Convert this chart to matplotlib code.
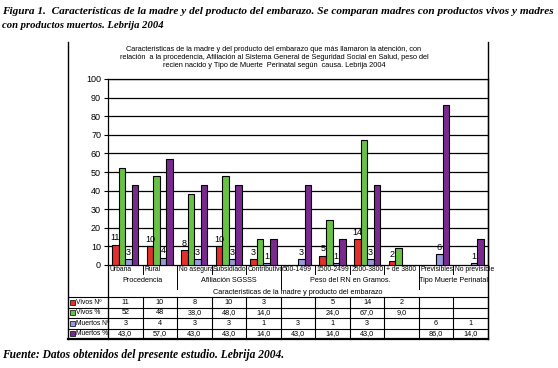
import matplotlib.pyplot as plt
import numpy as np
from matplotlib.transforms import Bbox, TransformedBbox

# data
categories = ['Urbana', 'Rural', 'No asegura', 'Subsidiado', 'Contributivo',
              '500-1499', '1500-2499', '2500-3800', '+ de 3800',
              'Previsibles', 'No previsible']
groups = ['Procedencia', 'Afiliación SGSSS', 'Peso del RN en Gramos.', 'Tipo Muerte Perinatal']
group_sizes = [2, 3, 4, 2]

vivos_n = [11, 10, 8, 10, 3, np.nan, 5, 14, 2, np.nan, np.nan]
vivos_pct = [52, 48, 38.0, 48.0, 14.0, np.nan, 24.0, 67.0, 9.0, np.nan, np.nan]
muertos_n = [3, 4, 3, 3, 1, 3, 1, 3, np.nan, 6, 1]
muertos_pct = [43.0, 57.0, 43.0, 43.0, 14.0, 43.0, 14.0, 43.0, np.nan, 86.0, 14.0]

series_names = ['Vivos Nº', 'Vivos %', 'Muertos Nº', 'Muertos %']
series = [vivos_n, vivos_pct, muertos_n, muertos_pct]
colors = ['#E3302A', '#68C244', '#9A9ADC', '#7A2A8E']
labelled = [True, False, True, False]
# number of decimals printed in each table cell row (first two "Vivos %" have none)
decimals = [[0] * 11, [0, 0] + [1] * 9, [0] * 11, [1] * 11]

title = ('Caracteristicas de la madre y del producto del embarazo que más llamaron la atención, con\n'
         'relación  a la procedencia, Afiliación al Sistema General de Seguridad Social en Salud, peso del\n'
         'recien nacido y Tipo de Muerte  Perinatal según  causa. Lebrija 2004')
xtitle = 'Caracteristicas de la madre y producto del embarazo'
caption1 = 'Figura 1.  Características de la madre y del producto del embarazo. Se comparan madres con productos vivos y madres'
caption2 = 'con productos muertos. Lebrija 2004'
footer = 'Fuente: Datos obtenidos del presente estudio. Lebrija 2004.'


def fmt(v, d):
    if d == 0:
        return '%d' % v
    return ('%.1f' % v).replace('.', ',')


W, H = 558, 368
fig = plt.figure(figsize=(W / 100, H / 100), dpi=100)
plt.rcParams['font.family'] = ['Liberation Sans', 'DejaVu Sans']

# plot box in pixels
px0, px1, py0, py1 = 108, 488, 79, 265
ax = fig.add_axes([px0 / W, 1 - py1 / H, (px1 - px0) / W, (py1 - py0) / H])

n = len(categories)
x = np.arange(n)
bw = 0.19
for k, (vals, c) in enumerate(zip(series, colors)):
    pos = x + (k - 1.5) * bw
    ax.bar(pos, vals, width=bw, color=c, edgecolor='black', linewidth=0.8, zorder=3)
    if labelled[k]:
        for xp, v in zip(pos, vals):
            if not np.isnan(v):
                ax.text(xp, v + 1.2, '%d' % v, ha='center', va='bottom', fontsize=6.5, zorder=4)

ax.set_xlim(-0.5, n - 0.5)
ax.set_ylim(0, 100)
ax.set_yticks(np.arange(0, 101, 10))
ax.tick_params(axis='y', labelsize=6.5, length=3, width=0.8, pad=2)
ax.set_xticks([])
for y in range(10, 101, 10):
    ax.axhline(y, color='black', lw=0.9, zorder=1)
for s in ax.spines.values():
    s.set_linewidth(0.9)

# overlay in pixel coordinates for the frame, title and table
ov = fig.add_axes([0, 0, 1, 1])
ov.set_xlim(0, W)
ov.set_ylim(H, 0)
ov.axis('off')

bx0, bx1, by0 = 68, 488, 42
ov.plot([bx0, bx0], [by0, 339], color='black', lw=1.0)
ov.plot([bx1, bx1], [by0, 339], color='black', lw=1.0)

ov.text(274, 57.5, title, ha='center', va='center', fontsize=5.35, linespacing=1.25)

cw = (px1 - px0) / n
edges = [px0 + i * cw for i in range(n + 1)]
group_edges = np.cumsum([0] + group_sizes)

# category row and group row
for i in range(1, n):
    long = i in group_edges
    ov.plot([edges[i], edges[i]], [py1, 289 if long else 274], color='black', lw=0.7)
ov.plot([px0, px0], [py1, 339], color='black', lw=0.9)
for i, cat in enumerate(categories):
    t = ov.text(edges[i] + 1.5, 269.5, cat, ha='left', va='center', fontsize=4.9)
    t.set_clip_box(TransformedBbox(Bbox([[edges[i], 260], [edges[i + 1] - 0.5, 280]]), ov.transData))
for g, name in enumerate(groups):
    gx = (edges[group_edges[g]] + edges[group_edges[g + 1]]) / 2
    ov.text(gx, 281, name, ha='center', va='center', fontsize=5.2)
ov.text((px0 + px1) / 2, 292, xtitle, ha='center', va='center', fontsize=5.2)

# data table
rows_y = [297, 307.5, 318, 328.5, 339]
for j, yl in enumerate(rows_y):
    ov.plot([bx0, bx1], [yl, yl], color='black', lw=1.6 if j == len(rows_y) - 1 else 0.8)
for e in edges:
    ov.plot([e, e], [rows_y[0], rows_y[-1]], color='black', lw=0.8)
for r, (name, vals, c) in enumerate(zip(series_names, series, colors)):
    yc = (rows_y[r] + rows_y[r + 1]) / 2
    ov.add_patch(plt.Rectangle((70, yc - 2.5), 5, 5, facecolor=c, edgecolor='black', lw=0.5))
    ov.text(76, yc, name, ha='left', va='center', fontsize=4.9)
    for i, v in enumerate(vals):
        if not np.isnan(v):
            ov.text((edges[i] + edges[i + 1]) / 2, yc, fmt(v, decimals[r][i]),
                    ha='center', va='center', fontsize=5.2)

# caption and source, italic serif, sized to the widths in the reference
fig.canvas.draw()
for txt, yy, width in [(caption1, 11, 552), (caption2, 25, 161), (footer, 355, 283)]:
    t = ov.text(2, yy, txt, ha='left', va='center', fontsize=8.3, style='italic',
                fontfamily='Liberation Serif', fontweight='bold')
    w = t.get_window_extent(fig.canvas.get_renderer()).width
    t.set_fontsize(8.3 * width / w)

fig.savefig('out.png', dpi=100)
